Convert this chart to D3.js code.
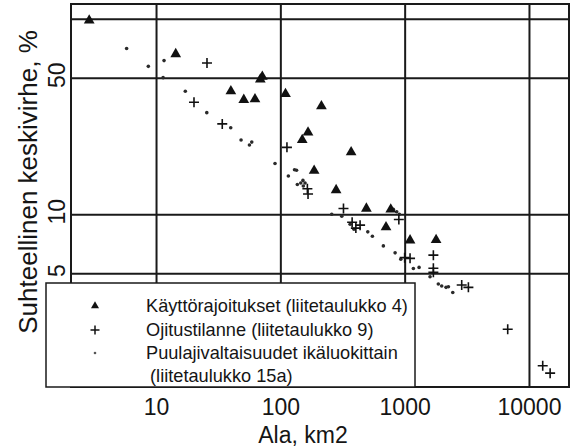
<!DOCTYPE html>
<html>
<head>
<meta charset="utf-8">
<script src="https://cdn.jsdelivr.net/npm/d3@7/dist/d3.min.js"></script>
<style>
  body { margin: 0; background: #fff; }
  text { font-family: "Liberation Sans", Arial, sans-serif; fill: #151515; }
</style>
</head>
<body>
<div id="chart"></div>
<script>
// area (km2) and relative standard error (%)
const triX = [2.9, 14.4, 71.6, 69, 40, 50.8, 62.5, 110, 214, 167, 150, 371, 187, 281, 492, 773, 708, 1105, 1790];
const triY = [98, 66, 50.6, 49, 42.6, 38.5, 38.8, 41.3, 35.7, 26.2, 24.0, 20.8, 16.7, 13.3, 10.7, 10.6, 8.6, 7.36, 7.4];

const plusX = [25.7, 20.2, 34.1, 113, 165, 167, 322, 378, 438, 405, 898, 1702, 1000, 1105, 1702, 1702, 2877, 3256, 6745, 12900, 14800];
const plusY = [59.4, 37.4, 29.0, 22.0, 13.5, 12.7, 10.7, 9.1, 8.8, 8.5, 9.4, 6.18, 6.0, 5.95, 5.3, 5.05, 4.35, 4.23, 2.58, 1.68, 1.54];

const dotX = [5.8, 8.67, 11.6, 11.4, 17.2, 25.6, 39.9, 48.3, 56.4, 58.9, 90.6, 116, 130, 135, 137, 146, 152, 158, 153,
              259, 312, 364, 391, 505, 550, 674, 838, 931, 1175, 1306, 1600, 811, 863, 906, 1866, 1986, 2152, 2249, 2438];
const dotY = [70.5, 57.1, 61.1, 50, 42.6, 33.1, 27.7, 24.0, 22.6, 23.4, 18.2, 15.7, 16.9, 16.8, 14.2, 14.45, 14.9, 14.45, 13.95,
              10.0, 9.77, 8.9, 8.38, 8.13, 7.72, 6.89, 6.35, 5.89, 5.28, 5.35, 4.79, 10.6, 10.3, 10.0, 4.4, 4.3, 4.23, 4.26, 3.98];

const xTicks = [10, 100, 1000, 10000];
const yTicks = [5, 10, 50, 100];
const yTickLabels = ["5", "10", "50", ""];

const legendLabels = ["Käyttörajoitukset (liitetaulukko 4)", "Ojitustilanne (liitetaulukko 9)",
                      "Puulajivaltaisuudet ikäluokittain", " (liitetaulukko 15a)"];

const W = 579, H = 448;
const margin = {left: 71, right: 569, top: 4, bottom: 387};

const svg = d3.select("#chart").append("svg")
    .attr("width", W).attr("height", H);
svg.append("rect").attr("width", W).attr("height", H).attr("fill", "#fff");

const x = d3.scaleLog().domain([2.07, 20990]).range([margin.left, margin.right]);
const y = d3.scaleLog().domain([1.308, 119]).range([margin.bottom, margin.top]);

// x axis + vertical grid
const gx = svg.append("g")
    .attr("transform", "translate(0," + margin.bottom + ")")
    .call(d3.axisBottom(x).tickValues(xTicks).tickFormat(d3.format("d"))
          .tickSize(-(margin.bottom - margin.top)).tickSizeOuter(0));
gx.select(".domain").remove();
gx.selectAll("line").attr("stroke", "#1a1a1a").attr("stroke-width", 2);
gx.selectAll("text").attr("y", 28).attr("dy", 0)
    .style("font-size", "23px").style("font-family", "\"Liberation Sans\", Arial, sans-serif");

// y axis + horizontal grid
const gy = svg.append("g")
    .attr("transform", "translate(" + margin.left + ",0)")
    .call(d3.axisLeft(y).tickValues(yTicks).tickFormat((d, i) => yTickLabels[i])
          .tickSize(-(margin.right - margin.left)).tickSizeOuter(0));
gy.select(".domain").remove();
gy.selectAll("line").attr("stroke", "#1a1a1a").attr("stroke-width", 2);
gy.selectAll("text")
    .attr("x", 0).attr("dy", 0)
    .attr("text-anchor", "middle")
    .attr("transform", "translate(-6,-3) rotate(-90)")
    .style("font-size", "23px").style("font-family", "\"Liberation Sans\", Arial, sans-serif");

// frame
svg.append("rect")
    .attr("x", margin.left).attr("y", margin.top)
    .attr("width", margin.right - margin.left).attr("height", margin.bottom - margin.top)
    .attr("fill", "none").attr("stroke", "#1a1a1a").attr("stroke-width", 2);

// points
const marks = svg.append("g");
marks.selectAll(".dot")
    .data(dotX.map((d, i) => [d, dotY[i]]))
    .enter().append("circle")
    .attr("class", "dot")
    .attr("cx", d => x(d[0])).attr("cy", d => y(d[1]))
    .attr("r", 1.8).attr("fill", "#2a2a2a");

marks.selectAll(".plus")
    .data(plusX.map((d, i) => [d, plusY[i]]))
    .enter().append("path")
    .attr("class", "plus")
    .attr("transform", d => "translate(" + x(d[0]) + "," + y(d[1]) + ")")
    .attr("d", "M-5,0H5M0,-5V5")
    .attr("stroke", "#111").attr("stroke-width", 1.6).attr("fill", "none");

marks.selectAll(".tri")
    .data(triX.map((d, i) => [d, triY[i]]))
    .enter().append("path")
    .attr("class", "tri")
    .attr("transform", d => "translate(" + x(d[0]) + "," + y(d[1]) + ")")
    .attr("d", d3.symbol(d3.symbolTriangle, 50))
    .attr("fill", "#111");

// legend
const lg = svg.append("g");
lg.append("rect")
    .attr("x", 46).attr("y", 283).attr("width", 369).attr("height", 104)
    .attr("fill", "#fff").attr("stroke", "#1a1a1a").attr("stroke-width", 1.5);
lg.append("path").attr("transform", "translate(95,306)")
    .attr("d", d3.symbol(d3.symbolTriangle, 28)).attr("fill", "#111");
lg.append("path").attr("transform", "translate(95,330)")
    .attr("d", "M-4.5,0H4.5M0,-4.5V4.5").attr("stroke", "#111").attr("stroke-width", 1.5);
lg.append("circle").attr("cx", 95).attr("cy", 353).attr("r", 1.3).attr("fill", "#555");
const rowY = [306, 330, 353, 376];
lg.selectAll(".lt")
    .data(legendLabels)
    .enter().append("text")
    .attr("x", (d, i) => i === 3 ? 145 : 146)
    .attr("y", (d, i) => rowY[i] + 6)
    .attr("xml:space", "preserve")
    .style("font-size", "18.2px")
    .text(d => d);

// axis titles
svg.append("text")
    .attr("x", (margin.left + margin.right) / 2 - 17).attr("y", 443)
    .attr("text-anchor", "middle")
    .style("font-size", "23px")
    .text("Ala, km2");

svg.append("text")
    .attr("transform", "translate(37,182) rotate(-90)")
    .attr("text-anchor", "middle")
    .style("font-size", "26px")
    .text("Suhteellinen keskivirhe, %");
</script>
</body>
</html>
